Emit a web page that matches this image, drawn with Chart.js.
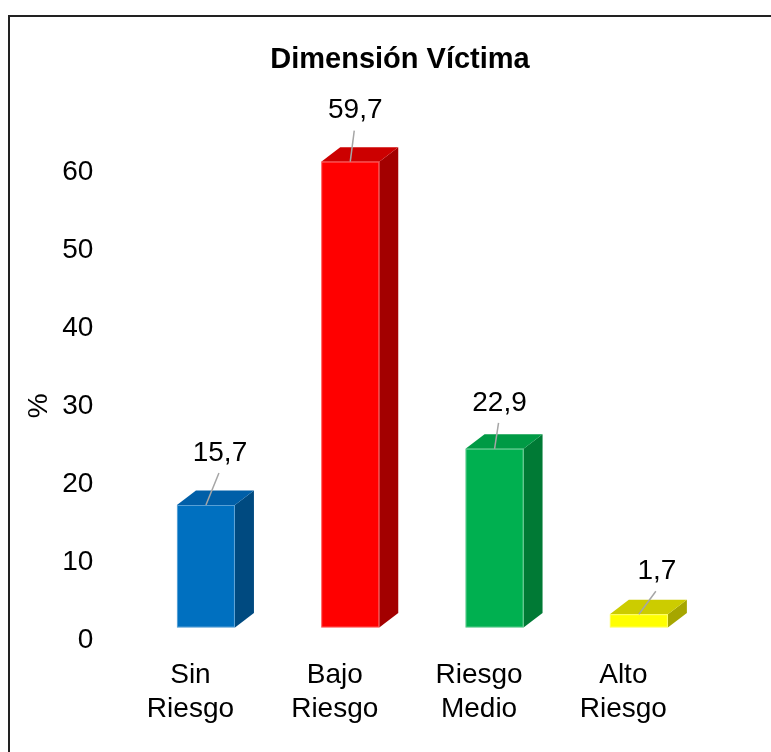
<!DOCTYPE html>
<html>
<head>
<meta charset="utf-8">
<script src="https://cdn.jsdelivr.net/npm/chart.js@4/dist/chart.umd.min.js"></script>
<style>
  body { margin: 0; background: #fff; }
  canvas { display: block; }
</style>
</head>
<body>
<canvas id="chart" width="771" height="752"></canvas>
<script>
const categories = [["Sin", "Riesgo"], ["Bajo", "Riesgo"], ["Riesgo", "Medio"], ["Alto", "Riesgo"]];
const values = [15.7, 59.7, 22.9, 1.7];
const yTicks = [0, 10, 20, 30, 40, 50, 60];

const frontColors = ["#0070C0", "#FF0000", "#00B050", "#FFFF00"];
const topColors = ["#005FA8", "#CC0000", "#009A45", "#CCCC00"];
const sideColors = ["#004A80", "#A30000", "#007A35", "#A6A600"];

// posizione delle etichette rispetto allo spigolo frontale
const labelDx = [14, 5, 5, 18];
const labelDy = [52, 51, 46, 43];

const FONT = "'Liberation Sans', Arial, sans-serif";
const depthX = 19, depthY = 14.5, lift = 12.5, shift = 15.5;

const bars3d = {
    id: "bars3d",
    afterLayout(chart) {
        // titolo centrato sull'intera cornice, non sull'area del grafico
        chart.titleBlock.left = 29;
        chart.titleBlock.right = 771;
    },
    beforeDraw(chart) {
        const c = chart.ctx;
        c.save();
        c.fillStyle = "#fff";
        c.fillRect(0, 0, chart.width, chart.height);
        c.strokeStyle = "#222";
        c.lineWidth = 2;
        c.strokeRect(9, 16, 900, 900);
        c.restore();
    },
    afterDatasetsDraw(chart) {
        const c = chart.ctx;
        const meta = chart.getDatasetMeta(0);
        c.save();
        meta.data.forEach((el, i) => {
            const x = el.x + shift;
            const top = el.y - lift;
            const bot = el.base - lift;
            const w = el.width;
            const l = x - w / 2, r = x + w / 2;

            c.fillStyle = sideColors[i];
            c.beginPath();
            c.moveTo(r, top);
            c.lineTo(r + depthX, top - depthY);
            c.lineTo(r + depthX, bot - depthY);
            c.lineTo(r, bot);
            c.closePath();
            c.fill();

            c.fillStyle = topColors[i];
            c.beginPath();
            c.moveTo(l, top);
            c.lineTo(l + depthX, top - depthY);
            c.lineTo(r + depthX, top - depthY);
            c.lineTo(r, top);
            c.closePath();
            c.fill();

            c.fillStyle = frontColors[i];
            c.fillRect(l, top, w, bot - top);
            c.strokeStyle = "rgba(255,255,255,0.35)";
            c.lineWidth = 1;
            c.strokeRect(l + 0.5, top + 0.5, w - 1, bot - top - 1);

            // etichetta con linea guida
            const lx = x + labelDx[i];
            const ly = top - labelDy[i];
            c.strokeStyle = "#A6A6A6";
            c.lineWidth = 1.5;
            c.beginPath();
            c.moveTo(lx - 1, ly + 20);
            c.lineTo(x, top);
            c.stroke();

            c.fillStyle = "#000";
            c.font = "28px " + FONT;
            c.textAlign = "center";
            c.textBaseline = "middle";
            c.fillText(values[i].toFixed(1).replace(".", ","), lx, ly);
        });
        c.restore();
    }
};

new Chart(document.getElementById("chart"), {
    type: "bar",
    data: {
        labels: categories,
        datasets: [{
            data: values,
            backgroundColor: "rgba(0,0,0,0)",
            categoryPercentage: 1,
            barPercentage: 0.402
        }]
    },
    options: {
        responsive: false,
        animation: false,
        events: [],
        layout: { padding: { left: 12, right: 75.5, top: 0, bottom: 0 } },
        plugins: {
            legend: { display: false },
            tooltip: { enabled: false },
            title: {
                display: true,
                text: "Dimensión Víctima",
                color: "#000",
                font: { family: FONT, size: 29, weight: "bold" },
                padding: { top: 43, bottom: 94 }
            }
        },
        scales: {
            x: {
                grid: { display: false, drawTicks: false },
                border: { display: false },
                ticks: {
                    color: "#000",
                    font: { family: FONT, size: 28, lineHeight: 1.22 },
                    padding: 18,
                    maxRotation: 0,
                    autoSkip: false
                },
                afterFit(scale) { scale.height = 112; }
            },
            y: {
                min: 0,
                max: 60,
                afterBuildTicks(scale) { scale.ticks = yTicks.map(v => ({ value: v })); },
                grid: { display: false, drawTicks: false },
                border: { display: false },
                ticks: {
                    color: "#000",
                    font: { family: FONT, size: 28 },
                    padding: 25
                },
                title: {
                    display: true,
                    text: "%",
                    color: "#000",
                    font: { family: FONT, size: 28 },
                    padding: { top: 10, bottom: 0 }
                },
                afterFit(scale) { scale.width = 106.3; }
            }
        }
    },
    plugins: [bars3d]
});
</script>
</body>
</html>
